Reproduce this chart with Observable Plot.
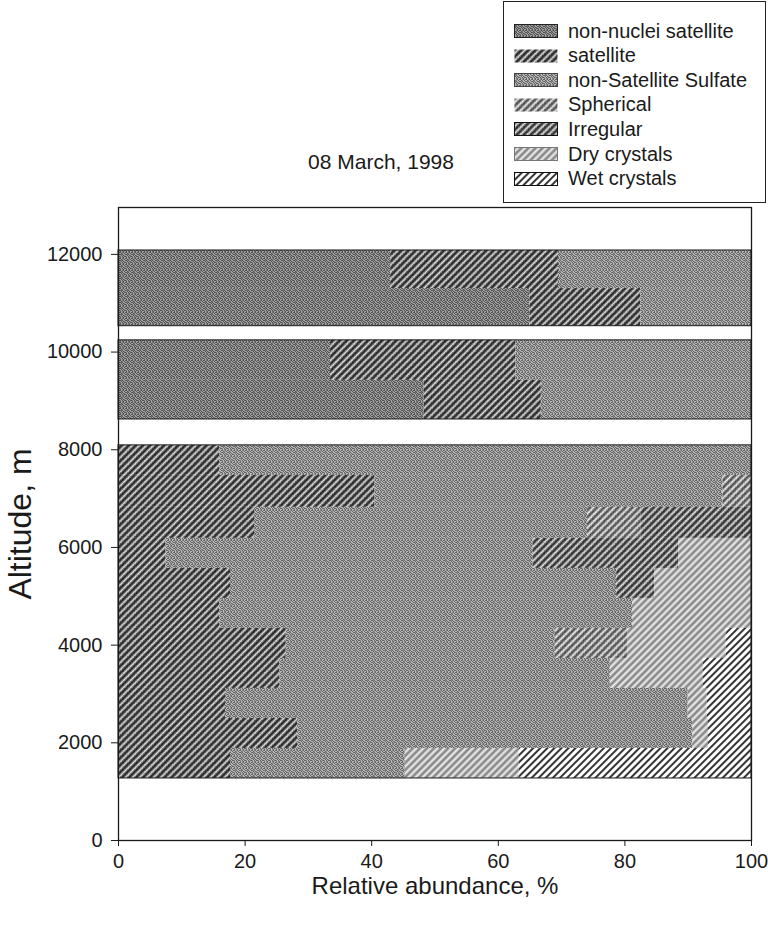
<!DOCTYPE html>
<html>
<head>
<meta charset="utf-8">
<script src="https://cdn.jsdelivr.net/npm/d3@7"></script>
<script src="https://cdn.jsdelivr.net/npm/@observablehq/plot@0.6"></script>
<style>
  body { margin: 0; background: #fff; }
  #wrap { position: relative; width: 768px; height: 926px; font-family: "Liberation Sans", Arial, sans-serif; color: #1a1a1a; }
  #wrap svg.chart { position: absolute; left: 0; top: 0; }
  #title { position: absolute; left: 261px; width: 240px; top: 150px; text-align: center; font-size: 21px; }
  #legend { position: absolute; left: 503px; top: 1px; width: 263px; height: 202px; border: 1.5px solid #222; box-sizing: border-box; background: #fff; }
  .item { position: absolute; left: 10px; height: 22px; display: flex; align-items: center; font-size: 20px; white-space: nowrap; }
  .item svg { margin-right: 10px; flex: none; }
</style>
</head>
<body>
<div id="wrap">
  <div id="title">08 March, 1998</div>
  <div id="legend"></div>
</div>
<script>
// Particle classes, in stacking order from left to right
const categories = ["non-nuclei satellite", "satellite", "non-Satellite Sulfate", "Spherical", "Irregular", "Dry crystals", "Wet crystals"];

// Altitude layers (m): upper and lower edge of each sampled layer
const layerTop    = [12080, 11300, 10240, 9420, 8090, 7475, 6820, 6185, 5570, 4956, 4342, 3727, 3113, 2498, 1884];
const layerBottom = [11300, 10530,  9420, 8620, 7475, 6820, 6185, 5570, 4956, 4342, 3727, 3113, 2498, 1884, 1270];

// Relative abundance (%) of each class per layer
const nonNucleiSatellite  = [43, 65, 33.5, 48.3, 0, 0, 0, 0, 0, 0, 0, 0, 0, 0, 0];
const satellite           = [26.5, 17.5, 29.3, 18.5, 16, 40.5, 21.5, 7.5, 17.7, 16, 26.5, 25.5, 16.9, 28.3, 17.7];
const nonSatelliteSulfate = [30.5, 17.5, 37.2, 33.2, 84, 55, 52.6, 58, 61, 65.2, 42.5, 52.2, 73.1, 62.4, 27.6];
const spherical           = [0, 0, 0, 0, 0, 4.5, 8.5, 0, 0, 0, 11.5, 0, 0, 0, 0];
const irregular           = [0, 0, 0, 0, 0, 0, 17.4, 23, 6, 0, 0, 0, 0, 0, 0];
const dryCrystals         = [0, 0, 0, 0, 0, 0, 0, 11.5, 15.3, 18.8, 15.5, 14.7, 3, 2.5, 18];
const wetCrystals         = [0, 0, 0, 0, 0, 0, 0, 0, 0, 0, 4, 7.6, 7, 6.8, 36.7];

// Axis ticks
const xTicks = [0, 20, 40, 60, 80, 100];
const yTicks = [0, 2000, 4000, 6000, 8000, 10000, 12000];

const series = [nonNucleiSatellite, satellite, nonSatelliteSulfate, spherical, irregular, dryCrystals, wetCrystals];

// Long table: one row per (layer, class) with a non-zero share
const table = [];
layerTop.forEach((top, i) => {
  categories.forEach((c, k) => {
    if (series[k][i] > 0) table.push({category: c, lo: layerBottom[i], hi: top, value: series[k][i]});
  });
});

// Contiguous blocks of layers, outlined in black
const blocks = [];
layerTop.forEach((top, i) => {
  if (i > 0 && layerBottom[i - 1] === top) blocks[blocks.length - 1].lo = layerBottom[i];
  else blocks.push({hi: top, lo: layerBottom[i]});
});

// Fill patterns for each class
const fills = {
  "non-nuclei satellite":  {id: "p-nns", kind: "stipple", base: "#7a7a7a", dark: "#505050", light: "#a4a4a4", legendStroke: "#222"},
  "satellite":             {id: "p-sat", kind: "hatch", bg: "url(#g-dark)", line: "#141414", lw: 1.5, white: "#eeeeee", legendStroke: "none"},
  "non-Satellite Sulfate": {id: "p-nss", kind: "stipple", base: "#8e8e8e", dark: "#626262", light: "#bababa", legendStroke: "#444"},
  "Spherical":             {id: "p-sph", kind: "hatch", bg: "url(#g-light)", line: "#262626", lw: 1.2, white: "#f4f4f4", legendStroke: "none"},
  "Irregular":             {id: "p-irr", kind: "hatch", bg: "url(#g-mid)", line: "#141414", lw: 1.4, white: "#eeeeee", legendStroke: "#111"},
  "Dry crystals":          {id: "p-dry", kind: "hatch", bg: "#c2c2c2", line: "#5a5a5a", lw: 1.1, white: "#f8f8f8", legendStroke: "#777"},
  "Wet crystals":          {id: "p-wet", kind: "hatch", bg: "#ffffff", line: "#111111", lw: 1.7, white: null, legendStroke: "#111"}
};
// Plain grain textures used behind the hatching
const grains = [
  {id: "g-dark", base: "#7e7e7e", dark: "#555555", light: "#a8a8a8"},
  {id: "g-mid", base: "#8c8c8c", dark: "#606060", light: "#b4b4b4"},
  {id: "g-light", base: "#a6a6a6", dark: "#7a7a7a", light: "#cccccc"}
];

const fontFamily = '"Liberation Sans", Arial, sans-serif';

const chart = Plot.plot({
  width: 768,
  height: 926,
  marginTop: 207,
  marginRight: 17,
  marginBottom: 86,
  marginLeft: 118,
  style: {fontFamily, color: "#1a1a1a", background: "transparent", overflow: "visible"},
  x: {domain: [0, 100]},
  y: {domain: [0, 12960]},
  color: {domain: categories, range: categories.map(c => `url(#${fills[c].id})`)},
  marks: [
    Plot.rectX(table, {y1: "lo", y2: "hi", x: "value", fill: "category", order: categories}),
    Plot.rect(blocks, {x1: 0, x2: 100, y1: "lo", y2: "hi", fill: "none", stroke: "#1a1a1a", strokeWidth: 1}),
    Plot.frame({stroke: "#1a1a1a", strokeWidth: 1.3}),
    Plot.axisX({ticks: xTicks, tickSize: 6, tickPadding: 7, fontSize: 20, label: null}),
    Plot.axisY({ticks: yTicks, tickSize: 7, tickPadding: 9, fontSize: 20, tickFormat: d => String(d), label: null}),
    Plot.text(["Relative abundance, %"], {frameAnchor: "bottom", dy: 53, fontSize: 24}),
    Plot.text(["Altitude, m"], {frameAnchor: "left", textAnchor: "middle", rotate: -90, dx: -98, dy: 0, fontSize: 32})
  ]
});
chart.classList.add("chart");

// Pattern definitions
const defs = d3.select(chart).insert("defs", ":first-child");
const grain = [
  "dl.dld",
  "ld.ldl",
  "d.dlld",
  "ldld.l",
  ".ldldd",
  "dl.dll"
];
function addGrain(id, base, dark, light) {
  const p = defs.append("pattern").attr("id", id).attr("patternUnits", "userSpaceOnUse").attr("width", 6).attr("height", 6);
  p.append("rect").attr("width", 6).attr("height", 6).attr("fill", base);
  grain.forEach((row, j) => [...row].forEach((ch, i) => {
    if (ch !== ".") p.append("rect").attr("x", i).attr("y", j).attr("width", 1).attr("height", 1).attr("fill", ch === "d" ? dark : light);
  }));
}
for (const g of grains) addGrain(g.id, g.base, g.dark, g.light);
for (const c of categories) {
  const f = fills[c];
  if (f.kind === "stipple") {
    addGrain(f.id, f.base, f.dark, f.light);
  } else {
    const p = defs.append("pattern").attr("id", f.id).attr("patternUnits", "userSpaceOnUse")
      .attr("width", 5).attr("height", 5).attr("patternTransform", "rotate(45)");
    p.append("rect").attr("width", 5).attr("height", 5).attr("fill", f.bg);
    p.append("line").attr("x1", 1).attr("x2", 1).attr("y1", 0).attr("y2", 5).attr("stroke", f.line).attr("stroke-width", f.lw);
    if (f.white) p.append("line").attr("x1", 3.4).attr("x2", 3.4).attr("y1", 0).attr("y2", 5).attr("stroke", f.white).attr("stroke-width", 0.9);
  }
}

document.getElementById("wrap").prepend(chart);

// Legend box
const legend = d3.select("#legend");
categories.forEach((c, k) => {
  const item = legend.append("div").attr("class", "item").style("top", `${18 + k * 24.6}px`);
  const sw = item.append("svg").attr("width", 44).attr("height", 14);
  sw.append("rect").attr("x", 0.5).attr("y", 0.5).attr("width", 43).attr("height", 13)
    .attr("fill", `url(#${fills[c].id})`).attr("stroke", fills[c].legendStroke).attr("stroke-width", 1);
  item.append("span").text(c);
});
</script>
</body>
</html>
